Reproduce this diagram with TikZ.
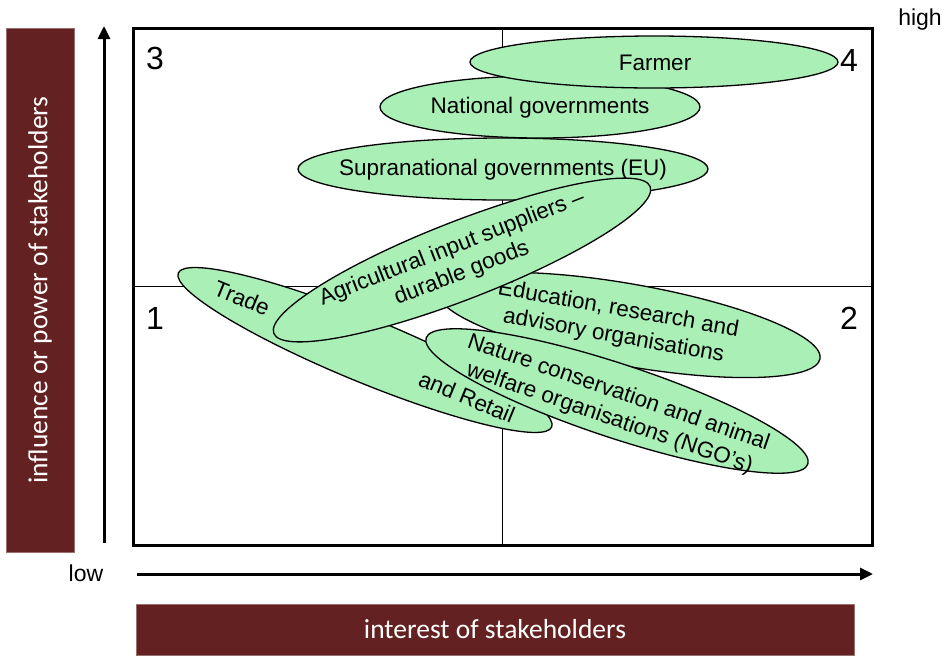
\documentclass[tikz,border=0pt]{standalone}
\usepackage{fontspec}
\setmainfont{Liberation Sans}
\newfontfamily\barfont{Carlito}
\usetikzlibrary{shapes.geometric,arrows.meta}
\definecolor{barred}{HTML}{632221}
\definecolor{leaf}{HTML}{A9EFB6}
\begin{document}
\begin{tikzpicture}[x=1pt,y=-1pt,
  party/.style={ellipse, draw=black, line width=1.3pt, fill=leaf, inner sep=0pt, outer sep=0pt},
  lbl/.style={font=\fontsize{22.5}{27}\selectfont, align=center, inner sep=0pt},
  quad/.style={font=\fontsize{32}{32}\selectfont, inner sep=0pt},
  axisbar/.style={fill=barred, draw=barred!65!white, line width=0.6pt, inner sep=0pt,
    text=white, font=\barfont\fontsize{27.5}{27.5}\selectfont},
  axisarrow/.style={line width=3pt, -{Triangle[length=13pt,width=12pt]}},
  endlbl/.style={font=\fontsize{23}{23}\selectfont, inner sep=0pt},
]
\useasboundingbox (0,0) rectangle (946,657);

% axis bars
\node[axisbar, rotate=90, minimum width=524pt, minimum height=68pt] (ybar) at (40,290)
  {influence or power of stakeholders};
\node[axisbar, minimum width=718pt, minimum height=51pt] (xbar) at (495,629.5)
  {interest of stakeholders};

% axis arrows
\coordinate (ybot) at (104,543);
\coordinate (ytop) at (104,26);
\coordinate (xleft) at (137,574);
\coordinate (xright) at (873,574);
\draw[axisarrow] (ybot) -- (ytop);
\draw[axisarrow] (xleft) -- (xright);
\node[endlbl] (low) at (86,573) {low};
\node[endlbl] (high) at (920,20) {high};

% quadrant grid
\node[draw, line width=3pt, minimum width=739pt, minimum height=517pt, inner sep=0pt]
  (grid) at (502.5,286.5) {};
\draw[line width=1.6pt] (grid.north) -- (grid.south);
\draw[line width=1.6pt] (grid.west) -- (grid.east);
\node[quad] (q3) at (155,58) {3};
\node[quad] (q4) at (849,60) {4};
\node[quad] (q1) at (155,318) {1};
\node[quad] (q2) at (849,318) {2};

% stakeholder groups, back to front
\node[party, minimum width=404pt, minimum height=64pt, rotate=-22.4] (trade) at (365,350) {};
\node[lbl, rotate=-22.4] (tradeA) at (242,298) {Trade};
\node[lbl, rotate=-22.4] (tradeB) at (467,397) {and Retail};

\node[party, minimum width=388pt, minimum height=82pt, rotate=-10] (edu) at (629,325) {};
\node[lbl, rotate=-10] (eduT) at (616,323) {Education, research and\\advisory organisations};

\node[party, minimum width=402pt, minimum height=74pt, rotate=-18.3] (ngo) at (617,401) {};
\node[lbl, rotate=-19] (ngoT) at (614,406) {Nature conservation and animal\\welfare organisations (NGO's)};

\node[party, minimum width=410pt, minimum height=62pt] (eu) at (503,169) {};
\node[lbl] (euT) at (503,170) {Supranational governments (EU)};

\node[party, minimum width=320pt, minimum height=62pt] (nat) at (540,107) {};
\node[lbl] (natT) at (540,108) {National governments};

\node[party, minimum width=368pt, minimum height=52pt] (farmer) at (654,62) {};
\node[lbl] (farmerT) at (655,63) {Farmer};

\node[party, minimum width=404pt, minimum height=78pt, rotate=21.3] (agri) at (462,260) {};
\node[lbl, rotate=21.3] (agriT) at (457,261) {Agricultural input suppliers --\\durable goods};
\end{tikzpicture}
\end{document}
